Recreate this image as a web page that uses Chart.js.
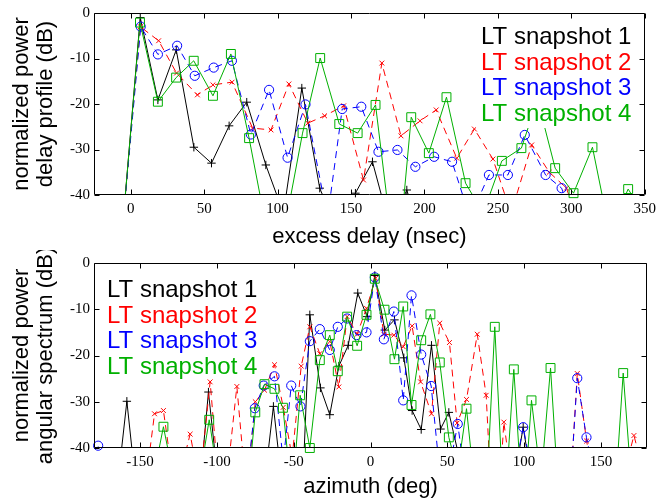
<!DOCTYPE html>
<html><head><meta charset="utf-8">
<script src="https://cdn.jsdelivr.net/npm/chart.js@4.4.0/dist/chart.umd.min.js"></script>
<style>
html,body{margin:0;padding:0;background:#fff;}
#wrap{position:relative;width:661px;height:500px;}
canvas{position:absolute;left:0;}
#c1{top:0}#c2{top:250px}
</style></head><body>
<div id="wrap"><canvas id="c1" width="661" height="250"></canvas><canvas id="c2" width="661" height="250"></canvas></div>
<script>
const seriesNames = ['LT snapshot 1','LT snapshot 2','LT snapshot 3','LT snapshot 4'];
const seriesColors = ['#000000','#ff0000','#0000ff','#00b000'];
const delayTicks = [0,50,100,150,200,250,300,350];
const azimuthTicks = [-150,-100,-50,0,50,100,150];
const dbTicks = [-40,-30,-20,-10,0];

// top: power delay profile (excess delay in nsec, power in dB)
const delay1 = [-5.5,6.5,18.5,31,43,55,67,79,92,104,116.5,128.7,141,153,164.6,176.5,188,200];
const pdp1   = [-47,-1,-19.1,-8.1,-29.5,-33,-24.8,-19.6,-33.4,-44,-16.5,-38.5,-48,-39.6,-32.7,-47,-38.9,-52];
const delay2 = [-5.5,6.5,19,31.2,45.4,56,69,83,95.5,107.7,120.6,132,145,158.5,171,184,197,208,222,234,246.6,259,273,285,296.7,309];
const pdp2   = [-47,-3,-6.1,-13.2,-18,-15.8,-15.2,-25.3,-25.7,-15.6,-24.2,-22.6,-20.4,-36.7,-11,-27,-23.7,-21.3,-31.9,-25.5,-32.1,-44,-29,-35,-38.5,-50];
const delay3 = [-5.5,6.8,18.5,31.6,43.6,56.5,68.9,81.8,94.2,106.8,119,134,144,157,168.7,181.6,193.8,206.6,218.8,231,243.9,256.8,268.3,282.5,293.4,306];
const pdp3   = [-47,-3,-9.1,-7.2,-13.8,-12,-10.5,-26.7,-16.9,-31.8,-20.1,-45,-21.1,-20.6,-30.5,-30.1,-33.8,-31.6,-32.7,-45,-35.6,-35.6,-26.8,-35.6,-38.5,-50];
const delay4 = [-5.5,6.3,18.5,30.9,42.9,56,68.2,80.6,92.8,105,117,129,142,154.5,166.7,181,191,203,215,228,240,252.7,266,277,289,301.5,314.4,326,338.7,351];
const pdp4   = [-47,-2.1,-19.5,-14.2,-10.5,-18.2,-9,-27.5,-48,-47,-26.4,-9.9,-24.4,-26.4,-20.2,-58,-22.9,-30.8,-18.5,-37.4,-44,-32.5,-29.7,-19,-34.1,-39.6,-29.5,-48,-38.7,-45];

// bottom: angular spectrum (azimuth in deg, power in dB)
const az1  = [-165,-158.6,-152.5,-112,-105.5,-99,-69.5,-63.2,-57,-45,-39.5,-32.6,-26.5,-20.6,-14.5,-8.3,-2.2,2.8,9.3,15.6,21.7,27.1,33,39.7,45.6,51,57,93,99.4,105.5];
const pas1 = [-49,-29.9,-49,-52,-27.9,-48,-49,-31,-49.7,-55,-11.2,-27,-32.8,-22.3,-17.8,-6.5,-11.6,-2.7,-14.5,-12.3,-20.5,-31.9,-36,-17.8,-35.9,-32.3,-41,-48,-35.5,-48];
const az2  = [-146.5,-140.6,-134.8,-128.7,-123.5,-117.4,-111.3,-104.4,-98.3,-92.9,-87,-80.8,-75,-69,-62.5,-56.8,-51,-45.1,-39.5,-33,-26.5,-20.6,-15.2,-8.7,-2.6,3.3,8.7,15.2,21.3,27.1,32.6,39.7,45.1,51.4,56.4,62.5,69.5,75.3,81,86.8,93,128.5,134.6,140.7,146.8,165.5,171.5,177.5];
const pas2 = [-48,-32.6,-31.9,-46.5,-45,-37,-48,-25.7,-50,-45,-26.7,-50,-30,-27.5,-22,-31.2,-42,-22.3,-13.8,-19.6,-17,-26.8,-11.6,-15.4,-9.8,-3.3,-15.4,-15.6,-18.1,-13.6,-25.7,-32.6,-13,-17.2,-34.6,-29.5,-15.4,-28.6,-66,-34.4,-50,-58,-23.9,-38.5,-50,-45,-37.3,-45];
const az3  = [-183,-177.3,-171.2,-81.4,-75.3,-69.5,-62.5,-56.8,-51.6,-45.6,-39.5,-33,-26.5,-21.3,-15.2,-9.1,-2.6,2.8,8.7,15.2,21.3,26.7,33,39.5,45.6,51,56.8,62.9,93.3,99.4,105.5,128.5,134.6,140.6,146.7];
const pas3 = [-60,-39.5,-60,-50,-31.4,-26.5,-24.5,-43,-26.5,-31,-16.9,-14.3,-18.8,-13.8,-12,-15.6,-15,-3.1,-16.5,-10.5,-29.7,-7,-19.8,-26.6,-47,-45,-34.8,-50,-46,-35.5,-46,-57,-24.9,-37.7,-47.5];
const az4  = [-141,-134.8,-128.7,-111,-105,-99,-81,-75,-69,-62.5,-57,-51,-45.8,-39.5,-33,-26.5,-21.3,-15.2,-8.7,-2.6,2.8,9.1,15.6,21.3,26.7,33,39,45.1,51,56.8,62.5,68.6,74.7,80.9,87,93.3,99.4,104.8,111,117.2,123.3,158.4,164.5,170.6];
const pas4 = [-45.8,-35.4,-45.5,-46,-33.9,-47,-53,-32.3,-26.2,-27.2,-31.3,-51,-28.6,-40,-21,-15.6,-23.4,-11.6,-17.9,-11.2,-3.4,-10.1,-20.8,-9.4,-30.7,-16.7,-11.1,-21.5,-37.7,-45,-31.5,-51,-55.5,-13.8,-55,-23,-55,-29.7,-47,-22.7,-55,-54.5,-23.8,-50.8];

const markerStyles = ['cross','crossRot','circle','rect'];
const markerRadii = [4.2,3.4,4.6,6.3];
const dashes = [[],[7,5],[7,5],[]];

const frame = {
  id:'frame',
  afterDraw(chart){
    const {ctx, chartArea:a, scales:{x,y}} = chart;
    ctx.save(); ctx.strokeStyle='#000'; ctx.lineWidth=1;
    ctx.beginPath();
    const L=Math.round(a.left)+0.5, R=Math.round(a.right)-0.5, T=Math.round(a.top)+0.5, B=Math.round(a.bottom)-0.5;
    ctx.rect(L,T,R-L,B-T);
    const tl=5;
    x.ticks.forEach(t=>{const p=Math.round(x.getPixelForValue(t.value))+0.5; ctx.moveTo(p,B); ctx.lineTo(p,B-tl); ctx.moveTo(p,T); ctx.lineTo(p,T+tl);});
    y.ticks.forEach(t=>{const p=Math.round(y.getPixelForValue(t.value))+0.5; ctx.moveTo(L,p); ctx.lineTo(L+tl,p); ctx.moveTo(R,p); ctx.lineTo(R-tl,p);});
    ctx.stroke(); ctx.restore();
  }
};
const textLegend = {
  id:'textLegend',
  afterDatasetsDraw(chart, args, o){
    const ctx=chart.ctx; ctx.save();
    ctx.fillStyle='#fff'; ctx.fillRect(o.box[0],o.box[1],o.box[2],o.box[3]);
    ctx.font='24px "Liberation Sans", Arial, sans-serif';
    ctx.textAlign='left'; ctx.textBaseline='alphabetic';
    seriesNames.forEach((n,i)=>{ctx.fillStyle=seriesColors[i]; ctx.fillText(n, o.x, o.y0 + i*o.dy);});
    ctx.restore();
  }
};

Chart.defaults.color = '#000';
function makeChart(id, xs, ys, xmin, xmax, xTicks, xTitle, yTitle, xAxisH, legendOpts){
  const datasets=[];
  for (let i=0;i<4;i++){
    const pts = xs[i].map((v,j)=>({x:v,y:ys[i][j]}));
    datasets.push({label:seriesNames[i], data:pts, borderColor:seriesColors[i], borderWidth:1, borderDash:dashes[i],
      pointRadius:0, clip:0, order:10-2*i, fill:false, tension:0});
    datasets.push({label:seriesNames[i]+' markers', data:pts.filter(p=>p.y>=-40.5 && p.x>=xmin && p.x<=xmax), showLine:false,
      pointStyle:markerStyles[i], pointRadius:markerRadii[i], pointBorderColor:seriesColors[i],
      pointBackgroundColor:'rgba(0,0,0,0)', pointBorderWidth:1, clip:false, order:9-2*i});
  }
  const tickFont = {family:'"Liberation Serif", "Times New Roman", serif', size:15};
  const titleFont = {family:'"Liberation Sans", Arial, sans-serif', size:22, lineHeight:1.1};
  return new Chart(document.getElementById(id), {
    type:'line',
    data:{datasets},
    options:{
      responsive:false, animation:false, events:[],
      layout:{padding:{top:13,right:14,left:0,bottom:0}},
      plugins:{legend:{display:false}, tooltip:{enabled:false}, textLegend:legendOpts},
      scales:{
        x:{type:'linear', min:xmin, max:xmax,
          afterBuildTicks:s=>{s.ticks=xTicks.map(v=>({value:v}));},
          afterFit:s=>{s.height=xAxisH;},
          grid:{display:false, drawTicks:false}, border:{display:false},
          ticks:{padding:5, font:tickFont, color:'#000', maxRotation:0, autoSkip:false},
          title:{display:true, text:xTitle, font:titleFont, color:'#000', padding:{top:0,bottom:1}}},
        y:{type:'linear', min:-40, max:0,
          afterBuildTicks:s=>{s.ticks=dbTicks.map(v=>({value:v}));},
          afterFit:s=>{s.width=94;},
          grid:{display:false, drawTicks:false}, border:{display:false},
          ticks:{padding:4, font:tickFont, color:'#000'},
          title:{display:true, text:yTitle, font:titleFont, color:'#000', padding:{top:10,bottom:0}}}
      }
    },
    plugins:[textLegend, frame]
  });
}

makeChart('c1', [delay1,delay2,delay3,delay4], [pdp1,pdp2,pdp3,pdp4], -25, 350, delayTicks,
  'excess delay (nsec)', ['normalized power','delay profile (dB)'], 55,
  {box:[476,20,165,108], x:481, y0:44, dy:25.5});
makeChart('c2', [az1,az2,az3,az4], [pas1,pas2,pas3,pas4], -180, 180, azimuthTicks,
  'azimuth (deg)', ['normalized power','angular spectrum (dB)'], 52,
  {box:[102,22,160,106], x:107, y0:47, dy:25.5});
</script>
</body></html>
